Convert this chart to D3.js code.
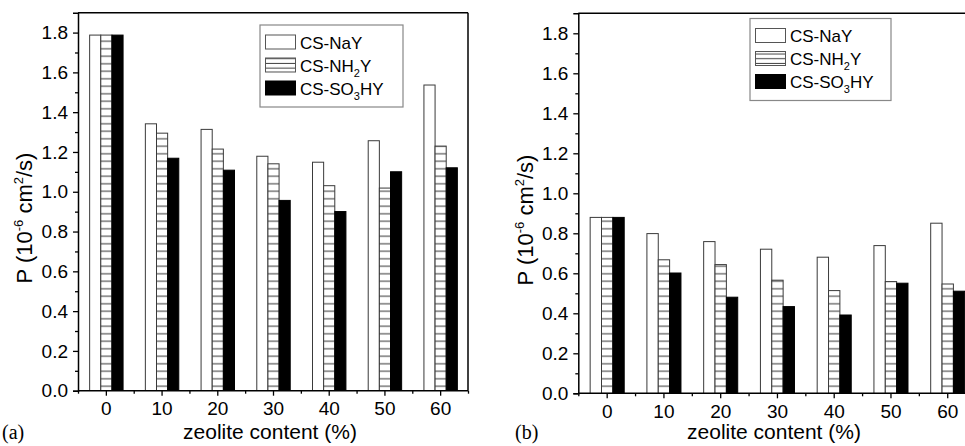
<!DOCTYPE html>
<html><head><meta charset="utf-8">
<script src="https://cdn.jsdelivr.net/npm/d3@7"></script>
<style>
html,body{margin:0;padding:0;background:#fff;}
svg{display:block;font-family:"Liberation Sans",Arial,sans-serif;}
</style></head>
<body>
<svg id="chart" width="965" height="446"></svg>
<script>
const categories = [0, 10, 20, 30, 40, 50, 60];
const seriesNames = ["CS-NaY", "CS-NH2Y", "CS-SO3HY"];
// panel (a)
const naY_a   = [1.79, 1.344, 1.316, 1.181, 1.151, 1.259, 1.539];
const nh2Y_a  = [1.79, 1.297, 1.217, 1.143, 1.033, 1.021, 1.232];
const so3HY_a = [1.79, 1.171, 1.111, 0.959, 0.903, 1.103, 1.123];
// panel (b)
const naY_b   = [0.882, 0.801, 0.761, 0.723, 0.683, 0.741, 0.853];
const nh2Y_b  = [0.882, 0.670, 0.646, 0.568, 0.516, 0.561, 0.549];
const so3HY_b = [0.882, 0.604, 0.483, 0.436, 0.394, 0.553, 0.513];
const yMajorTicks = [0, 0.2, 0.4, 0.6, 0.8, 1.0, 1.2, 1.4, 1.6, 1.8];
const yMinorTicks = [0.1, 0.3, 0.5, 0.7, 0.9, 1.1, 1.3, 1.5, 1.7];
const xMinorTicks = [-5, 5, 15, 25, 35, 45, 55, 65];

const svg = d3.select("#chart");
const defs = svg.append("defs");
const pat = defs.append("pattern").attr("id","hatch").attr("patternUnits","userSpaceOnUse")
  .attr("width", 8).attr("height", 7.5);
pat.append("rect").attr("width",8).attr("height",7.5).attr("fill","#fff");
pat.append("line").attr("x1",0).attr("x2",8).attr("y1",3.75).attr("y2",3.75)
  .attr("stroke","#333").attr("stroke-width",1);
const pat2 = defs.append("pattern").attr("id","hatchL").attr("patternUnits","userSpaceOnUse")
  .attr("width", 8).attr("height", 4.7);
pat2.append("rect").attr("width",8).attr("height",4.7).attr("fill","#fff");
pat2.append("line").attr("x1",0).attr("x2",8).attr("y1",2.3).attr("y2",2.3)
  .attr("stroke","#444").attr("stroke-width",1);

const fills = ["#fff", "url(#hatch)", "#000"];
const legFills = ["#fff", "url(#hatchL)", "#000"];
const offsets = [-3, -1, 1];
const barW = 2;

function panel(opt) {
  const x = d3.scaleLinear().domain([-5, 65]).range([opt.x0, opt.x1]);
  const y = d3.scaleLinear().domain([0, 1.9]).range([opt.y0, opt.y1]);
  const g = svg.append("g");
  const clipId = "clip" + opt.id;
  defs.append("clipPath").attr("id", clipId).append("rect")
    .attr("x", opt.x0).attr("y", opt.y1).attr("width", opt.x1 - opt.x0).attr("height", opt.y0 - opt.y1);

  const data = [opt.s1, opt.s2, opt.s3];
  const bars = g.append("g").attr("clip-path", `url(#${clipId})`);
  data.forEach((vals, si) => {
    bars.selectAll(null).data(categories).enter().append("rect")
      .attr("x", (c) => x(c + offsets[si]) + 0.5)
      .attr("width", (c) => x(c + offsets[si] + barW) - x(c + offsets[si]))
      .attr("y", (c, i) => y(vals[i]) + 0.5)
      .attr("height", (c, i) => y(0) - y(vals[i]))
      .attr("fill", fills[si])
      .attr("stroke", si === 2 ? "#000" : "#3a3a3a")
      .attr("stroke-width", 1);
  });

  g.append("line").attr("x1", opt.x0).attr("x2", opt.frameRight).attr("y1", opt.y1).attr("y2", opt.y1)
    .attr("stroke", "#000").attr("stroke-width", 1.5);
  if (opt.rightBorder) {
    g.append("line").attr("x1", opt.x1).attr("x2", opt.x1).attr("y1", opt.y1).attr("y2", opt.y0)
      .attr("stroke", "#000").attr("stroke-width", 1.5);
  }

  const fontTick = "19px";
  const yAx = g.append("g").attr("transform", `translate(${opt.x0},0)`)
    .call(d3.axisLeft(y).tickValues(yMajorTicks).tickSize(5).tickPadding(5).tickFormat(d3.format(".1f")));
  yAx.select(".domain").attr("stroke-width", 1.5);
  yAx.selectAll(".tick line").attr("stroke-width", 1.3);
  yAx.selectAll("text").attr("font-size", fontTick).attr("font-family", "Liberation Sans, Arial, sans-serif").attr("fill","#000");
  const yMin = g.append("g").attr("transform", `translate(${opt.x0},0)`)
    .call(d3.axisLeft(y).tickValues(yMinorTicks).tickSize(3).tickFormat(""));
  yMin.select(".domain").remove();
  yMin.selectAll(".tick line").attr("stroke-width", 1.3);

  const xAx = g.append("g").attr("transform", `translate(0,${opt.y0})`)
    .call(d3.axisBottom(x).tickValues(categories).tickSize(5).tickPadding(6).tickFormat(d3.format("d")));
  xAx.select(".domain").attr("stroke-width", 1.5).attr("d", `M${opt.x0},0H${opt.frameRight}`);
  xAx.selectAll(".tick line").attr("stroke-width", 1.3);
  xAx.selectAll("text").attr("font-size", fontTick).attr("font-family", "Liberation Sans, Arial, sans-serif").attr("fill","#000");
  const xMin = g.append("g").attr("transform", `translate(0,${opt.y0})`)
    .call(d3.axisBottom(x).tickValues(xMinorTicks).tickSize(3).tickFormat(""));
  xMin.select(".domain").remove();
  xMin.selectAll(".tick line").attr("stroke-width", 1.3);

  g.append("text").attr("x", opt.xtX).attr("y", 439).attr("text-anchor", "middle")
    .attr("font-size", "21px").text("zeolite content (%)");

  const yt = g.append("text").attr("transform", `translate(${opt.ytX},${opt.ytY}) rotate(-90)`)
    .attr("text-anchor", "middle").attr("font-size", "22px");
  yt.append("tspan").text("P (10");
  yt.append("tspan").attr("font-size", "13px").attr("dy", -9).text("-6");
  yt.append("tspan").attr("dy", 9).text(" cm");
  yt.append("tspan").attr("font-size", "13px").attr("dy", -9).text("2");
  yt.append("tspan").attr("dy", 9).text("/s)");

  g.append("text").attr("x", opt.labelX).attr("y", 439).attr("font-family", "Liberation Serif, Times New Roman, serif")
    .attr("font-size", "20px").text(opt.label);

  const L = opt.legend;
  g.append("rect").attr("x", L.x).attr("y", L.y).attr("width", L.w).attr("height", L.h)
    .attr("fill", "#fff").attr("stroke", "#888").attr("stroke-width", 1.2);
  const rowY = [L.y + 17, L.y + 40, L.y + 63];
  seriesNames.forEach((name, i) => {
    g.append("rect").attr("x", L.x + 5.5).attr("y", rowY[i] - 7).attr("width", 30).attr("height", 14)
      .attr("fill", legFills[i]).attr("stroke", i === 2 ? "#000" : "#555").attr("stroke-width", 1);
    const t = g.append("text").attr("x", L.x + 40).attr("y", rowY[i] + 6.5).attr("font-size", "17px");
    if (i === 0) t.text("CS-NaY");
    if (i === 1) { t.append("tspan").text("CS-NH"); t.append("tspan").attr("font-size","11px").attr("dy",5).text("2"); t.append("tspan").attr("dy",-5).text("Y"); }
    if (i === 2) { t.append("tspan").text("CS-SO"); t.append("tspan").attr("font-size","11px").attr("dy",5).text("3"); t.append("tspan").attr("dy",-5).text("HY"); }
  });
}

panel({id: "a", label: "(a)", labelX: 2, x0: 78, x1: 468, xtX: 270, frameRight: 468, rightBorder: true,
  y0: 390.7, y1: 12.7, ytX: 32, ytY: 218, s1: naY_a, s2: nh2Y_a, s3: so3HY_a,
  legend: {x: 260, y: 25, w: 143, h: 82}});
panel({id: "b", label: "(b)", labelX: 515, x0: 578.3, x1: 975.6, xtX: 774, frameRight: 965, rightBorder: false,
  y0: 393.3, y1: 13.3, ytX: 533, ytY: 220, s1: naY_b, s2: nh2Y_b, s3: so3HY_b,
  legend: {x: 750, y: 18.5, w: 141, h: 82}});
</script>
</body></html>
